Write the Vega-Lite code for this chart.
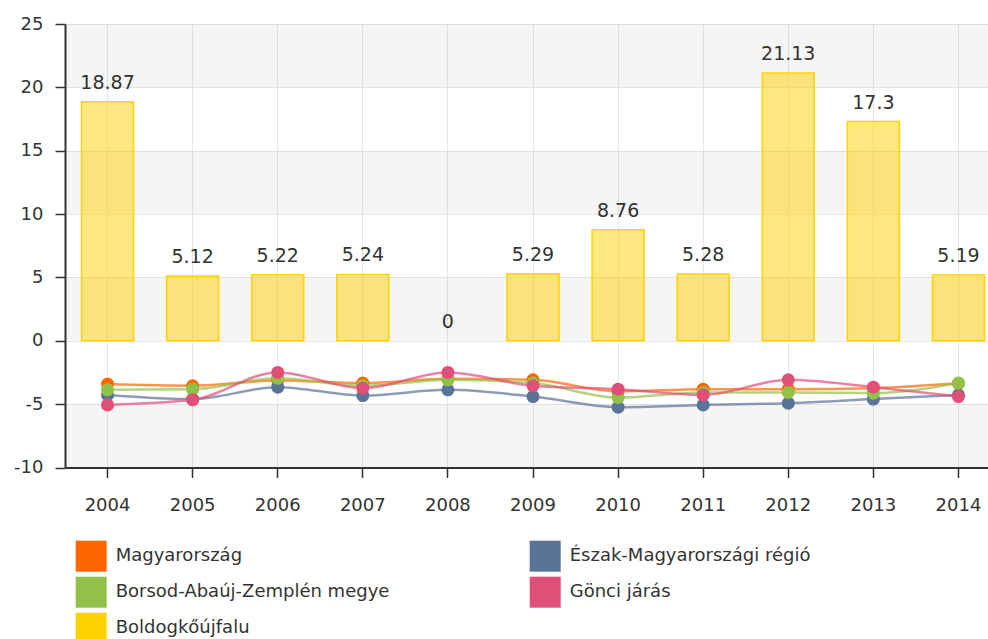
{
  "$schema": "https://vega.github.io/schema/vega-lite/v6.json",
  "width": 923,
  "height": 443.5,
  "autosize": {"type": "none"},
  "padding": {"left": 65, "top": 24, "right": 0, "bottom": 171.5},
  "background": "white",
  "config": {
    "view": {"stroke": null},
    "font": "DejaVu Sans",
    "axis": {"labelFont": "DejaVu Sans", "labelColor": "#333", "gridColor": "#e6e6e6", "gridWidth": 1, "domainColor": "#333", "domainWidth": 2, "tickColor": "#333", "tickWidth": 1.5, "title": null}
  },
  "datasets": {
    "bands": [
      {"lo": -10, "hi": -5},
      {"lo": 0, "hi": 5},
      {"lo": 10, "hi": 15},
      {"lo": 20, "hi": 25}
    ],
    "vals": [
      {"year": "2004", "series": "Magyarország", "value": -3.42},
      {"year": "2005", "series": "Magyarország", "value": -3.55},
      {"year": "2006", "series": "Magyarország", "value": -3.13},
      {"year": "2007", "series": "Magyarország", "value": -3.34},
      {"year": "2008", "series": "Magyarország", "value": -3.0},
      {"year": "2009", "series": "Magyarország", "value": -3.08},
      {"year": "2010", "series": "Magyarország", "value": -4.0},
      {"year": "2011", "series": "Magyarország", "value": -3.82},
      {"year": "2012", "series": "Magyarország", "value": -3.82},
      {"year": "2013", "series": "Magyarország", "value": -3.74},
      {"year": "2014", "series": "Magyarország", "value": -3.36},
      {"year": "2004", "series": "Észak-Magyarországi régió", "value": -4.27},
      {"year": "2005", "series": "Észak-Magyarországi régió", "value": -4.6},
      {"year": "2006", "series": "Észak-Magyarországi régió", "value": -3.66},
      {"year": "2007", "series": "Észak-Magyarországi régió", "value": -4.32},
      {"year": "2008", "series": "Észak-Magyarországi régió", "value": -3.87},
      {"year": "2009", "series": "Észak-Magyarországi régió", "value": -4.4},
      {"year": "2010", "series": "Észak-Magyarországi régió", "value": -5.24},
      {"year": "2011", "series": "Észak-Magyarországi régió", "value": -5.06},
      {"year": "2012", "series": "Észak-Magyarországi régió", "value": -4.92},
      {"year": "2013", "series": "Észak-Magyarországi régió", "value": -4.6},
      {"year": "2014", "series": "Észak-Magyarországi régió", "value": -4.27},
      {"year": "2004", "series": "Borsod-Abaúj-Zemplén megye", "value": -3.87},
      {"year": "2005", "series": "Borsod-Abaúj-Zemplén megye", "value": -3.82},
      {"year": "2006", "series": "Borsod-Abaúj-Zemplén megye", "value": -2.95},
      {"year": "2007", "series": "Borsod-Abaúj-Zemplén megye", "value": -3.55},
      {"year": "2008", "series": "Borsod-Abaúj-Zemplén megye", "value": -3.08},
      {"year": "2009", "series": "Borsod-Abaúj-Zemplén megye", "value": -3.34},
      {"year": "2010", "series": "Borsod-Abaúj-Zemplén megye", "value": -4.48},
      {"year": "2011", "series": "Borsod-Abaúj-Zemplén megye", "value": -4.08},
      {"year": "2012", "series": "Borsod-Abaúj-Zemplén megye", "value": -4.08},
      {"year": "2013", "series": "Borsod-Abaúj-Zemplén megye", "value": -4.13},
      {"year": "2014", "series": "Borsod-Abaúj-Zemplén megye", "value": -3.34},
      {"year": "2004", "series": "Gönci járás", "value": -5.06},
      {"year": "2005", "series": "Gönci járás", "value": -4.66},
      {"year": "2006", "series": "Gönci járás", "value": -2.5},
      {"year": "2007", "series": "Gönci járás", "value": -3.74},
      {"year": "2008", "series": "Gönci járás", "value": -2.5},
      {"year": "2009", "series": "Gönci járás", "value": -3.55},
      {"year": "2010", "series": "Gönci járás", "value": -3.82},
      {"year": "2011", "series": "Gönci járás", "value": -4.27},
      {"year": "2012", "series": "Gönci járás", "value": -3.08},
      {"year": "2013", "series": "Gönci járás", "value": -3.66},
      {"year": "2014", "series": "Gönci járás", "value": -4.4},
      {"year": "2004", "series": "Boldogkőújfalu", "value": 18.87},
      {"year": "2005", "series": "Boldogkőújfalu", "value": 5.12},
      {"year": "2006", "series": "Boldogkőújfalu", "value": 5.22},
      {"year": "2007", "series": "Boldogkőújfalu", "value": 5.24},
      {"year": "2008", "series": "Boldogkőújfalu", "value": 0},
      {"year": "2009", "series": "Boldogkőújfalu", "value": 5.29},
      {"year": "2010", "series": "Boldogkőújfalu", "value": 8.76},
      {"year": "2011", "series": "Boldogkőújfalu", "value": 5.28},
      {"year": "2012", "series": "Boldogkőújfalu", "value": 21.13},
      {"year": "2013", "series": "Boldogkőújfalu", "value": 17.3},
      {"year": "2014", "series": "Boldogkőújfalu", "value": 5.19}
    ]
  },
  "layer": [
    {
      "data": {"name": "bands"},
      "mark": {"type": "rect", "fill": "#000", "opacity": 0.04},
      "encoding": {
        "y": {"field": "lo", "type": "quantitative", "scale": {"domain": [-10, 25], "nice": false, "zero": false},
              "axis": {"values": [-10, -5, 0, 5, 10, 15, 20, 25], "grid": true, "labelFontSize": 18, "tickSize": 10, "labelPadding": 12, "domainWidth": 2, "labelExpr": "replace(datum.label, '−', '-')"}},
        "y2": {"field": "hi"}
      }
    },
    {
      "data": {"name": "vals"},
      "transform": [{"filter": "datum.series === 'Boldogkőújfalu'"}],
      "layer": [
        {
          "mark": {"type": "bar", "fillOpacity": 0.5, "stroke": "#ffd200"},
          "encoding": {
            "x": {"field": "year", "type": "ordinal",
                  "scale": {"range": [0, 936], "paddingInner": 0.389, "paddingOuter": 0.1945},
                  "axis": {"labelAngle": 0, "grid": true, "bandPosition": 0.5, "labelFontSize": 18, "tickSize": 10, "labelBaseline": "alphabetic", "labelPadding": 33}},
            "y": {"field": "value", "type": "quantitative"},
            "color": {"field": "series", "type": "nominal"},
            "strokeWidth": {"condition": {"test": "datum.value === 0", "value": 0}, "value": 1.5}
          }
        },
        {
          "mark": {"type": "text", "fontSize": 19, "color": "#333", "baseline": "alphabetic", "dy": -13},
          "encoding": {
            "x": {"field": "year", "type": "ordinal"},
            "y": {"field": "value", "type": "quantitative"},
            "text": {"field": "value", "type": "quantitative"}
          }
        }
      ]
    },
    {
      "data": {"name": "vals"},
      "transform": [{"filter": "datum.series !== 'Boldogkőújfalu'"}],
      "layer": [
        {
          "mark": {"type": "line", "interpolate": "monotone", "strokeWidth": 2.5, "opacity": 0.7},
          "encoding": {
            "x": {"field": "year", "type": "ordinal"},
            "y": {"field": "value", "type": "quantitative"},
            "color": {"field": "series", "type": "nominal"}
          }
        },
        {
          "mark": {"type": "point", "filled": true, "size": 170, "opacity": 1, "shape": "circle"},
          "encoding": {
            "x": {"field": "year", "type": "ordinal"},
            "y": {"field": "value", "type": "quantitative"},
            "color": {"field": "series", "type": "nominal",
              "scale": {
                "domain": ["Magyarország", "Észak-Magyarországi régió", "Borsod-Abaúj-Zemplén megye", "Gönci járás", "Boldogkőújfalu"],
                "range": ["#ff6600", "#5a7497", "#93c047", "#e04f78", "#ffd200"]
              },
              "legend": {
                "orient": "none", "legendX": 10.7, "legendY": 516.7, "columns": 2, "direction": "horizontal", "title": null,
                "symbolType": "square", "symbolSize": 961, "symbolStrokeWidth": 0, "symbolOpacity": 1,
                "labelFontSize": 18, "labelFont": "DejaVu Sans", "labelColor": "#333", "labelOffset": 9,
                "rowPadding": 5, "columnPadding": 140, "labelLimit": 500,
                "encode": {"symbols": {"update": {"fill": {"scale": "color", "field": "value"}, "fillOpacity": {"value": 1}, "opacity": {"value": 1}, "shape": {"value": "square"}, "strokeWidth": {"value": 0}}}}
              }
            }
          }
        }
      ]
    }
  ]
}
